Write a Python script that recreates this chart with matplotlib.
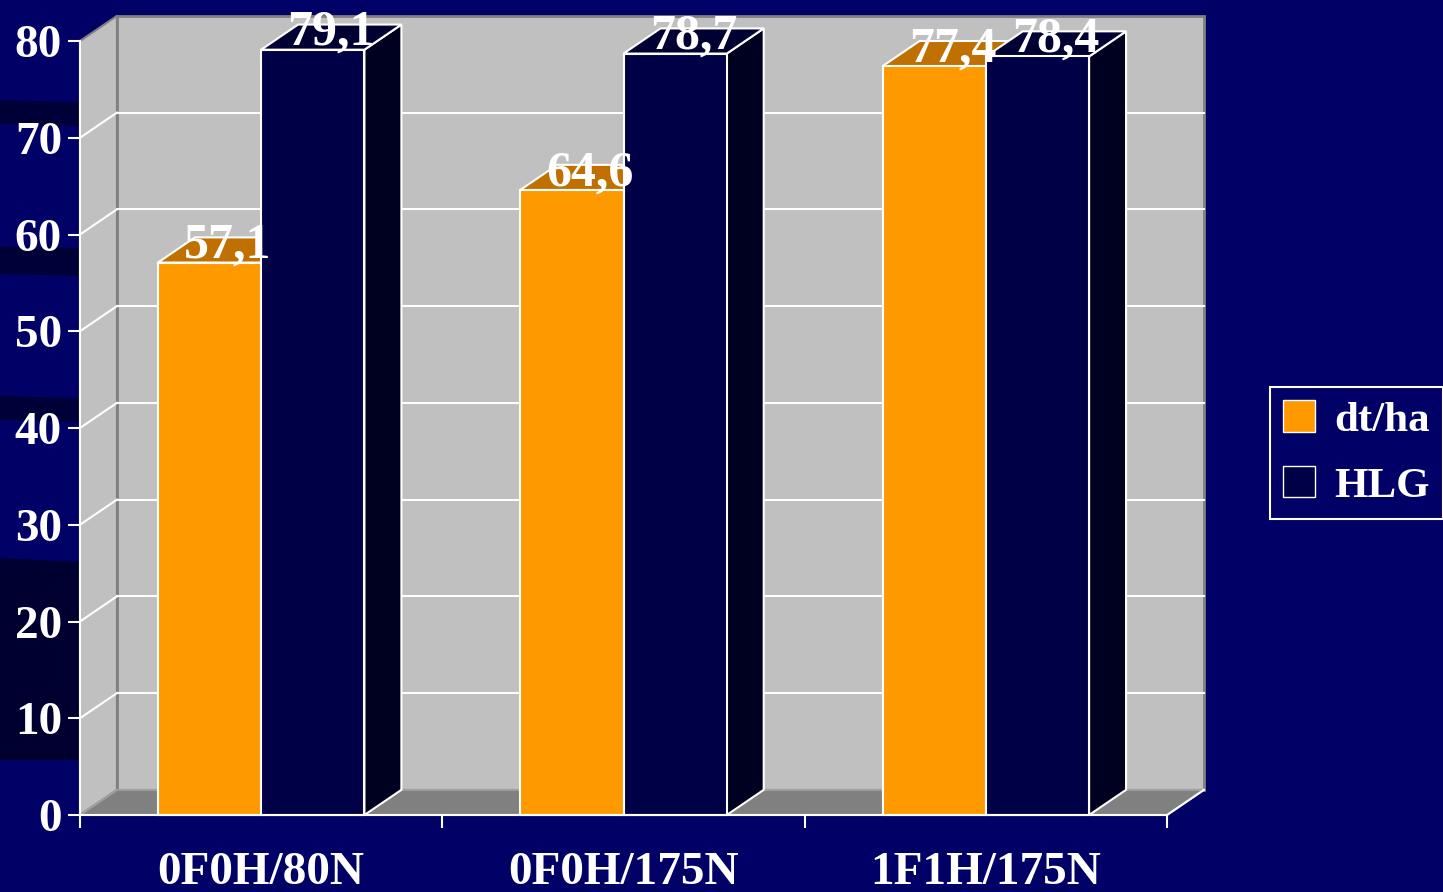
#3D-look grouped bar chart on a dark blue slide background

from matplotlib import pyplot as plt
from matplotlib.patches import Polygon, Rectangle, Patch

#the data
categories = ['0F0H/80N', '0F0H/175N', '1F1H/175N']
dt_ha = [57.1, 64.6, 77.4]
hlg = [79.1, 78.7, 78.4]
value_labels_dt = ['57,1', '64,6', '77,4']
value_labels_hlg = ['79,1', '78,7', '78,4']
yticks = [0, 10, 20, 30, 40, 50, 60, 70, 80]

#colours
bg = '#000066'
wall = '#c0c0c0'
floor = '#808080'
orange = ['#ff9900', '#c07000', '#c07000']    #front, top, side
navy = ['#000046', '#000033', '#000020']

#depth of the fake 3d (category units, value units)
DX = 0.102
DY = 2.6
W = 0.285

plt.rcParams['font.family'] = ['Liberation Serif', 'DejaVu Serif']
plt.rcParams['font.weight'] = 'bold'

fig = plt.figure(figsize=(14.43, 8.92), dpi=100, facecolor=bg)

#background streaks (slide decoration)
bgax = fig.add_axes([0, 0, 1, 1])
bgax.set_xlim(0, 1443)
bgax.set_ylim(892, 0)
bgax.axis('off')
for y0, y1 in [(100, 124), (246, 274), (396, 420)]:
    bgax.add_patch(Polygon([(0, y0), (80, y0 + 2), (80, y1 + 2), (0, y1)],
                           closed=True, color='#000038', lw=0))
bgax.add_patch(Polygon([(0, 558), (80, 562), (80, 760), (0, 760)],
                       closed=True, color='#000030', lw=0))

ax = fig.add_axes([80 / 1443, 77 / 892, 1087 / 1443, 774 / 892])
ax.set_facecolor('none')
ax.set_xlim(0, 3)
ax.set_ylim(0, 80)
n = len(categories)

#walls and floor
ax.add_patch(Rectangle((DX, DY), n, 80, facecolor=wall, edgecolor=floor, lw=2,
                       zorder=1, clip_on=False))
ax.add_patch(Polygon([(0, 0), (DX, DY), (DX, 80 + DY), (0, 80)], closed=True,
                     facecolor=wall, edgecolor=floor, lw=1.5, zorder=1, clip_on=False))
ax.add_patch(Polygon([(0, 0), (n, 0), (n + DX, DY), (DX, DY)], closed=True,
                     facecolor=floor, edgecolor='#a0a0a0', lw=1.5, zorder=1, clip_on=False))

#gridlines on back and side walls
for v in yticks[1:-1]:
    ax.plot([DX, n + DX], [v + DY, v + DY], color='white', lw=1.5, zorder=2, clip_on=False)
    ax.plot([0, DX], [v, v + DY], color='white', lw=1.5, zorder=2, clip_on=False)
ax.plot([n, n + DX], [0, DY], color='white', lw=1.5, zorder=2, clip_on=False)


def bar3d(x0, v, cols, z):
    ax.add_patch(Polygon([(x0 + W, 0), (x0 + W + DX, DY), (x0 + W + DX, v + DY), (x0 + W, v)],
                         closed=True, facecolor=cols[2], edgecolor='white', lw=1.5, zorder=z, clip_on=False))
    ax.add_patch(Polygon([(x0, v), (x0 + W, v), (x0 + W + DX, v + DY), (x0 + DX, v + DY)],
                         closed=True, facecolor=cols[1], edgecolor='white', lw=1.5, zorder=z, clip_on=False))
    ax.add_patch(Rectangle((x0, 0), W, v, facecolor=cols[0], edgecolor='white',
                           lw=1.5, zorder=z, clip_on=False))


for i in range(n):
    bar3d(i + 0.5 - W, dt_ha[i], orange, 3)
    bar3d(i + 0.5, hlg[i], navy, 4)
for i in range(n):
    ax.text(i + 0.5 - W / 2 + DX / 2, dt_ha[i] + 0.5, value_labels_dt[i], color='white',
            fontsize=36, fontweight='bold', ha='center', va='baseline', zorder=6)
    ax.text(i + 0.5 + W / 2 + DX / 2, hlg[i] + 0.5, value_labels_hlg[i], color='white',
            fontsize=36, fontweight='bold', ha='center', va='baseline', zorder=6)

#axes styling
for s in ['top', 'right']:
    ax.spines[s].set_visible(False)
for s in ['left', 'bottom']:
    ax.spines[s].set_color('white')
    ax.spines[s].set_linewidth(1.5)
    ax.spines[s].set_zorder(5)
ax.set_yticks(yticks)
ax.tick_params(axis='y', colors='white', length=9, width=1.5, labelsize=34, pad=4)
ax.set_xticks(range(n + 1))
ax.set_xticklabels([])
ax.set_xticks([i + 0.5 for i in range(n)], minor=True)
ax.set_xticklabels(categories, minor=True)
ax.tick_params(axis='x', which='major', colors='white', length=9, width=1.5)
ax.tick_params(axis='x', which='minor', colors='white', length=0, labelsize=34, pad=27)
for t in ax.get_yticklabels() + ax.get_xticklabels(minor=True):
    t.set_fontweight('bold')

#legend
handles = [Patch(facecolor=orange[0], edgecolor='white', label='dt/ha'),
           Patch(facecolor=navy[0], edgecolor='white', label='HLG')]
leg = fig.legend(handles=handles, loc='center left', bbox_to_anchor=(1270 / 1443, 1 - 453 / 892),
                 borderaxespad=0, facecolor=bg, edgecolor='white', framealpha=1, fancybox=False,
                 handlelength=0.75, handleheight=0.75, handletextpad=0.45, labelspacing=0.6,
                 borderpad=0.3, prop={'size': 31, 'weight': 'bold'})
for t in leg.get_texts():
    t.set_color('white')
leg.get_frame().set_linewidth(1.5)

fig.savefig('out.png', dpi=100, facecolor=bg)
